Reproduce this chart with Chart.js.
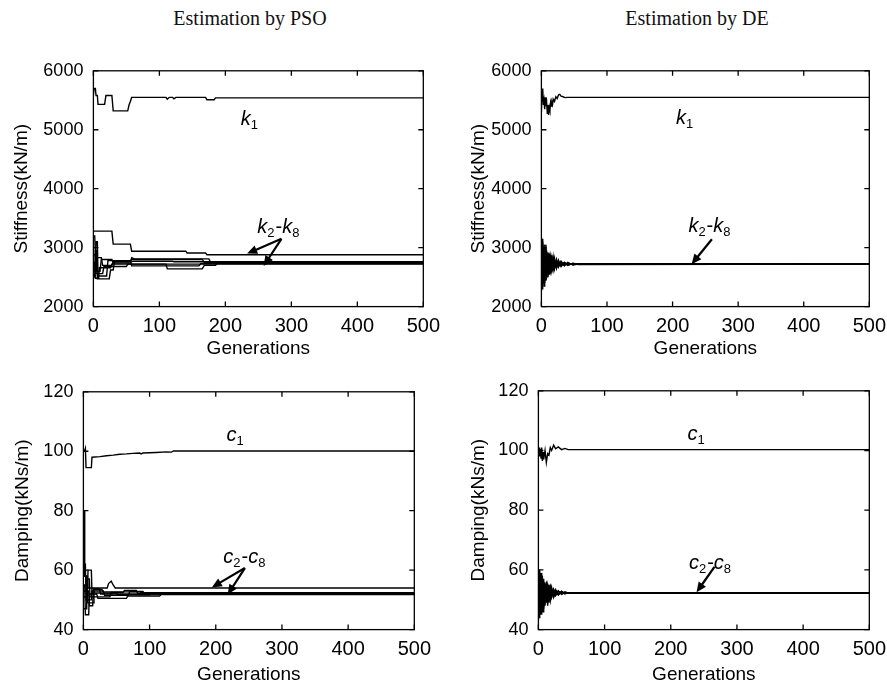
<!DOCTYPE html>
<html>
<head>
<meta charset="utf-8">
<script src="https://cdn.jsdelivr.net/npm/chart.js@4.4.1/dist/chart.umd.min.js"></script>
<style>
body { margin: 0; background: #fff; width: 887px; height: 685px; overflow: hidden; position: relative; }
canvas { position: absolute; }
.title { position: absolute; top: 7px; font-family: "Liberation Serif", "Times New Roman", serif; font-size: 20px; color: #111; transform: translateX(-50%); white-space: nowrap; }
</style>
</head>
<body>
<div class="title" style="left:250px">Estimation by PSO</div>
<div class="title" style="left:697px">Estimation by DE</div>
<canvas id="psoStiff"></canvas>
<canvas id="deStiff"></canvas>
<canvas id="psoDamp"></canvas>
<canvas id="deDamp"></canvas>
<script>
// axis ranges
const genRange = [0, 500];
const stiffRange = [2000, 6000];
const dampRange = [40, 120];

// PSO stiffness: [generation, kN/m]
const psoK1 = [[0,5580],[1,5700],[3,5700],[4,5580],[6,5580],[7,5430],[17,5430],[19,5580],[28,5580],[30,5320],[52,5320],[54,5420],[56,5480],[58,5550],[110,5550],[112,5520],[115,5550],[120,5550],[122,5525],[125,5550],[170,5550],[172,5510],[183,5510],[185,5540],[500,5540]];
const psoK2to8 = [
    [[0,3280],[28,3280],[30,3060],[56,3060],[58,2940],[140,2940],[142,2910],[170,2910],[172,2880],[500,2880]],
    [[0,3200],[2,3200],[4,2600],[10,2600],[12,2800],[28,2800],[30,2740],[56,2740],[58,2830],[62,2810],[175,2810],[178,2745],[500,2745]],
    [[0,2500],[2,2500],[3,2950],[5,2950],[6,2470],[24,2470],[26,2620],[30,2620],[32,2770],[56,2770],[58,2800],[165,2800],[168,2750],[500,2750]],
    [[0,2700],[3,2700],[4,3100],[6,3100],[7,2520],[20,2520],[22,2780],[56,2780],[58,2690],[160,2690],[163,2730],[500,2730]],
    [[0,2880],[3,2880],[4,2560],[14,2560],[16,2680],[50,2680],[52,2720],[110,2720],[112,2640],[165,2640],[168,2700],[185,2700],[188,2735],[500,2735]],
    [[0,2600],[4,2600],[5,2830],[12,2830],[14,2700],[28,2700],[30,2760],[58,2760],[60,2770],[120,2770],[122,2760],[500,2760]],
    [[0,2750],[2,2750],[3,2480],[8,2480],[9,2660],[26,2660],[28,2720],[500,2720]]
];

// DE stiffness
const deK1 = [[0,5300],[1,5650],[2,5700],[3,5420],[4,5500],[5,5350],[6,5550],[7,5400],[8,5460],[9,5280],[10,5420],[11,5250],[12,5380],[13,5330],[14,5460],[15,5400],[16,5470],[17,5430],[18,5520],[20,5480],[22,5560],[24,5530],[26,5590],[28,5600],[30,5570],[33,5560],[36,5545],[40,5550],[500,5550]];
const deGensK = [0,1,2,3,4,5,6,7,8,10,12,14,16,18,20,23,26,30,35,40,48,56,500];
const deK2to8 = [
    [3180,2300,2950,2500,3050,2550,2900,2600,2850,2620,2830,2640,2800,2670,2790,2690,2760,2700,2745,2710,2730,2718,2720],
    [2250,3100,2400,3000,2500,2980,2550,2900,2580,2880,2600,2840,2640,2800,2660,2780,2680,2760,2700,2740,2712,2725,2720],
    [2900,2500,3150,2450,2800,2400,3000,2500,2950,2550,2900,2580,2870,2620,2820,2650,2790,2680,2750,2700,2735,2715,2720],
    [2600,2950,2650,2880,2450,2850,2480,3050,2520,2920,2560,2860,2600,2830,2640,2800,2670,2770,2690,2750,2705,2722,2720],
    [3000,2700,2550,2950,2650,2750,2450,2800,2480,2900,2540,2870,2620,2780,2650,2770,2690,2750,2705,2735,2715,2720,2720],
    [2450,2800,2700,2600,2950,2650,2820,2450,2880,2500,2850,2570,2810,2630,2780,2660,2750,2690,2740,2705,2728,2717,2720],
    [2750,2400,2850,2700,2350,3050,2700,2550,2750,2580,2780,2600,2760,2650,2750,2700,2740,2710,2730,2715,2722,2720,2720]
];

// PSO damping: [generation, kNs/m]
const psoC1 = [[0,100.3],[2,100.3],[3,101],[4,94.5],[12,94.5],[13,98],[25,98.2],[35,98.5],[45,98.7],[55,99],[65,99.1],[75,99.3],[85,99.4],[87,99.1],[90,99.4],[110,99.6],[125,99.8],[133,99.7],[136,100.1],[500,100.1]];
const psoC2to8 = [
    [[0,80],[1,80],[2,58],[6,58],[7,54],[36,54],[38,55.5],[42,56.3],[45,55],[48,54],[500,54]],
    [[0,62],[3,62],[4,50],[12,50],[13,53],[30,53],[32,51.5],[68,51.5],[70,52.8],[90,52.8],[92,52],[500,52]],
    [[0,47],[4,47],[5,57],[9,57],[10,51],[40,51],[42,52.5],[60,52.5],[62,53.2],[80,53.2],[82,52.2],[500,52.2]],
    [[0,55],[2,55],[3,45],[8,45],[9,52],[20,52],[22,50.5],[65,50.5],[67,51.3],[115,51.3],[118,51.8],[500,51.8]],
    [[0,58],[5,58],[6,49],[15,49],[16,53.5],[28,53.5],[30,52.7],[85,52.7],[88,52.4],[500,52.4]],
    [[0,51],[6,51],[7,60],[12,60],[13,52.3],[50,52.3],[52,51.7],[100,51.7],[102,52.1],[500,52.1]],
    [[0,53],[8,53],[9,48],[14,48],[15,53.8],[24,53.8],[26,52],[500,52]]
];

// DE damping
const deGensC = [0,1,2,3,4,5,6,7,8,10,12,14,16,18,20,23,26,30,35,40,45,500];
const deC1 = [99,101,98,100.5,97.5,101,96.5,99.5,97,100,96,99,98.5,101,100,101.8,100.6,101.2,100.3,100.7,100.3,100.3];
const deC2to8 = [
    [60,44,58,47,57,48,56,49,55,50,54.5,50.5,54,51,53.5,51.5,53,51.8,52.8,52,52.4,52.3],
    [43,59,46,57,47,56,48,55.5,49,55,50,54,50.5,53.8,51,53.2,51.5,52.9,51.9,52.6,52.2,52.3],
    [55,50,60,45,56,49,57,48,54,49.5,55,50,53.5,50.8,53.7,51.2,53.1,51.6,52.7,52.1,52.35,52.3],
    [48,56,52,59,46,55,47,56,50,55.5,49,54.5,51,54,50.8,53.5,51.4,53,51.8,52.5,52.25,52.3],
    [52,47,55,50,58,45,54,50,56,48,54,49.5,55,50.5,53,51,53.4,51.7,52.9,52,52.4,52.3],
    [57,53,49,55,51,59,46,57,47,54,51,55,49,53.6,51.2,53.3,51.6,52.8,52,52.5,52.3,52.3],
    [45,57,54,48,53,47,58,46,53,51,56,48,54,50,54,50.8,52.9,51.9,52.6,52.1,52.35,52.3]
];

// text labels and arrows, in data units
const kLabel = [['k','i'],['1','s']];
const kRangeLabel = [['k','i'],['2','s'],['-','n'],['k','i'],['8','s']];
const cLabel = [['c','i'],['1','s']];
const cRangeLabel = [['c','i'],['2','s'],['-','n'],['c','i'],['8','s']];

const psoStiffNotes = { labels: [{x: 237, y: 5170, parts: kLabel}, {x: 281, y: 3340, parts: kRangeLabel}],
    arrows: [[285,3150,233,2900], [285,3150,258,2690]] };
const deStiffNotes = { labels: [{x: 219, y: 5200, parts: kLabel}, {x: 257, y: 3355, parts: kRangeLabel}],
    arrows: [[260,3143,229,2720]] };
const psoDampNotes = { labels: [{x: 230, y: 105.4, parts: cLabel}, {x: 244, y: 64.3, parts: cRangeLabel}],
    arrows: [[244,60.7,194,54.2], [244,60.7,218,51.8]] };
const deDampNotes = { labels: [{x: 239, y: 105.5, parts: cLabel}, {x: 260, y: 62.3, parts: cRangeLabel}],
    arrows: [[266,61,239,52.5]] };

const pairs = pts => pts.map(p => ({x: p[0], y: p[1]}));
const zipGens = (gens, vals) => vals.map((v, i) => ({x: gens[i], y: v}));

function drawParts(ctx, cx, cy, parts) {
    const fonts = { i: 'italic 20px "Liberation Sans", Arial, sans-serif',
                    n: '20px "Liberation Sans", Arial, sans-serif',
                    s: '13px "Liberation Sans", Arial, sans-serif' };
    let total = 0;
    parts.forEach(p => { ctx.font = fonts[p[1]]; total += ctx.measureText(p[0]).width + (p[1] === 's' ? 1 : 0); });
    let x = cx - total / 2;
    ctx.textBaseline = 'middle';
    ctx.textAlign = 'left';
    parts.forEach(p => {
        ctx.font = fonts[p[1]];
        ctx.fillText(p[0], x, p[1] === 's' ? cy + 6 : cy);
        x += ctx.measureText(p[0]).width + (p[1] === 's' ? 1 : 0);
    });
}

function drawArrow(ctx, x1, y1, x2, y2) {
    const ang = Math.atan2(y2 - y1, x2 - x1);
    const len = 10, w = 4.5;
    ctx.lineWidth = 2.2;
    ctx.beginPath();
    ctx.moveTo(x1, y1);
    ctx.lineTo(x2 - Math.cos(ang) * len * 0.8, y2 - Math.sin(ang) * len * 0.8);
    ctx.stroke();
    ctx.beginPath();
    ctx.moveTo(x2, y2);
    ctx.lineTo(x2 - Math.cos(ang) * len - Math.sin(ang) * w, y2 - Math.sin(ang) * len + Math.cos(ang) * w);
    ctx.lineTo(x2 - Math.cos(ang) * len + Math.sin(ang) * w, y2 - Math.sin(ang) * len - Math.cos(ang) * w);
    ctx.closePath();
    ctx.fill();
}

// box, inward ticks, labels and arrows like the matlab figure
const framePlugin = {
    id: 'frame',
    afterDatasetsDraw(chart, args, opts) {
        const {ctx, chartArea: a, scales: {x, y}} = chart;
        ctx.save();
        ctx.strokeStyle = '#000';
        ctx.fillStyle = '#000';
        ctx.lineWidth = 1.3;
        ctx.strokeRect(a.left, a.top, a.right - a.left, a.bottom - a.top);
        ctx.beginPath();
        x.ticks.forEach(t => {
            const px = x.getPixelForValue(t.value);
            ctx.moveTo(px, a.bottom); ctx.lineTo(px, a.bottom - 5);
            ctx.moveTo(px, a.top); ctx.lineTo(px, a.top + 5);
        });
        y.ticks.forEach(t => {
            const py = y.getPixelForValue(t.value);
            ctx.moveTo(a.left, py); ctx.lineTo(a.left + 5, py);
            ctx.moveTo(a.right, py); ctx.lineTo(a.right - 5, py);
        });
        ctx.stroke();
        (opts.labels || []).forEach(l => drawParts(ctx, x.getPixelForValue(l.x), y.getPixelForValue(l.y), l.parts));
        (opts.arrows || []).forEach(r => drawArrow(ctx, x.getPixelForValue(r[0]), y.getPixelForValue(r[1]),
            x.getPixelForValue(r[2]), y.getPixelForValue(r[3])));
        ctx.restore();
    }
};

function makePanel(id, box, yTitle, yRange, yStep, series, notes) {
    const lh = 19 * 1.2;
    const cx = box.yTitleX - lh / 2;
    const cy = box.top - 12;
    const cw = box.right + 24 - cx;
    const ch = box.xTitleY + lh / 2 - cy;
    const canvas = document.getElementById(id);
    canvas.width = cw;
    canvas.height = ch;
    canvas.style.left = cx + 'px';
    canvas.style.top = cy + 'px';

    new Chart(canvas, {
        type: 'line',
        data: {
            datasets: series.map(s => ({
                data: s,
                borderColor: '#000',
                borderWidth: 1.4,
                pointRadius: 0,
                tension: 0,
                fill: false
            }))
        },
        options: {
            responsive: false,
            animation: false,
            devicePixelRatio: 1,
            layout: { padding: { left: 0, top: 12, right: 24, bottom: 0 } },
            plugins: { legend: { display: false }, tooltip: { enabled: false }, frame: notes },
            scales: {
                x: {
                    type: 'linear',
                    min: genRange[0], max: genRange[1],
                    grid: { display: false, drawTicks: false },
                    border: { display: false },
                    ticks: { stepSize: 100, padding: 8, maxRotation: 0, color: '#000',
                             callback: v => String(v),
                             font: { family: '"Liberation Sans", Arial, sans-serif', size: 20 } },
                    title: { display: true, text: 'Generations', color: '#000', padding: 0,
                             font: { family: '"Liberation Sans", Arial, sans-serif', size: 19 } },
                    afterFit: s => { s.height = cy + ch - box.bottom; }
                },
                y: {
                    type: 'linear',
                    min: yRange[0], max: yRange[1],
                    grid: { display: false, drawTicks: false },
                    border: { display: false },
                    ticks: { stepSize: yStep, padding: 10, color: '#000',
                             callback: v => String(v),
                             font: { family: '"Liberation Sans", Arial, sans-serif', size: 18 } },
                    title: { display: true, text: yTitle, color: '#000', padding: 0,
                             font: { family: '"Liberation Sans", Arial, sans-serif', size: 19 } },
                    afterFit: s => { s.width = box.left - cx; }
                }
            }
        },
        plugins: [framePlugin]
    });
}

makePanel('psoStiff', {left: 93, top: 62, right: 424, bottom: 307, yTitleX: 21, xTitleY: 349},
    'Stiffness(kN/m)', stiffRange, 1000, [pairs(psoK1), ...psoK2to8.map(pairs)], psoStiffNotes);
makePanel('deStiff', {left: 541, top: 62, right: 870, bottom: 307, yTitleX: 478, xTitleY: 349},
    'Stiffness(kN/m)', stiffRange, 1000, [pairs(deK1), ...deK2to8.map(v => zipGens(deGensK, v))], deStiffNotes);
makePanel('psoDamp', {left: 83, top: 383, right: 415, bottom: 630, yTitleX: 22, xTitleY: 675},
    'Damping(kNs/m)', dampRange, 20, [pairs(psoC1), ...psoC2to8.map(pairs)], psoDampNotes);
makePanel('deDamp', {left: 538, top: 382, right: 870, bottom: 630, yTitleX: 478, xTitleY: 675},
    'Damping(kNs/m)', dampRange, 20, [zipGens(deGensC, deC1), ...deC2to8.map(v => zipGens(deGensC, v))], deDampNotes);
</script>
</body>
</html>
